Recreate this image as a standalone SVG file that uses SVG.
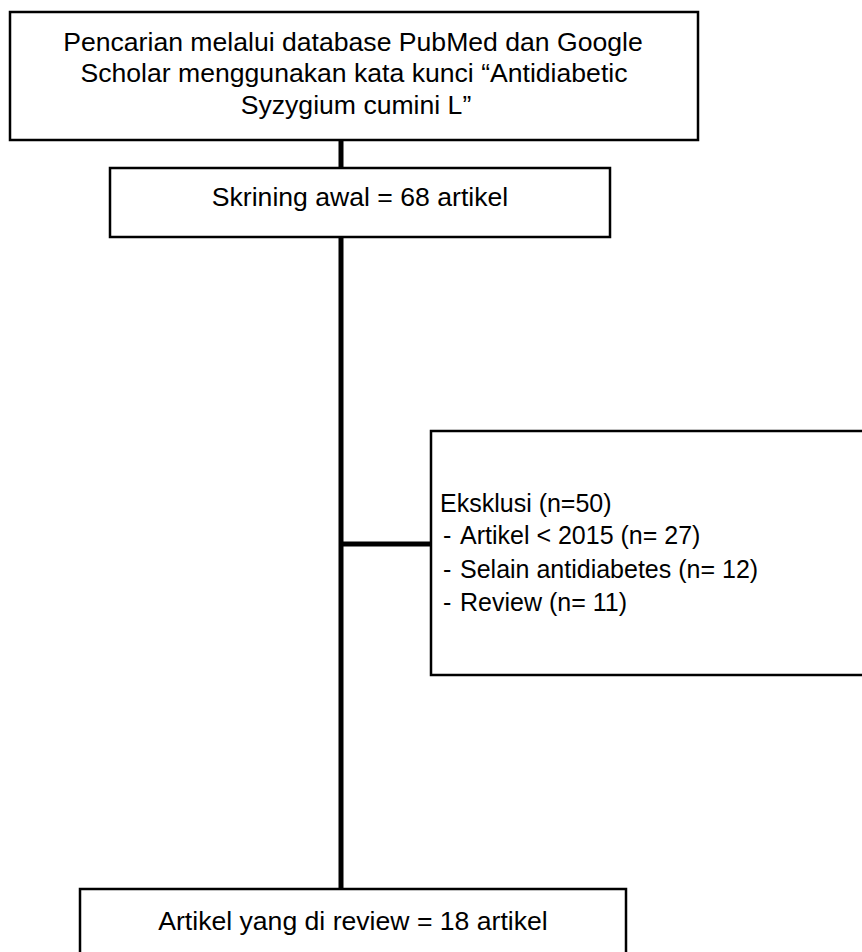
<svg xmlns="http://www.w3.org/2000/svg" width="862" height="952" viewBox="0 0 862 952">
<style>
.box{fill:#fff;stroke:#000;stroke-width:2.5}
.t{font-family:"Liberation Sans",Arial,sans-serif;font-size:26.6px;fill:#000}
.e{font-family:"Liberation Sans",Arial,sans-serif;font-size:25px;fill:#000}
.c{stroke:#000;stroke-width:5;fill:none}
</style>
<rect width="862" height="952" fill="#fff"/>
<g id="connectors">
<line class="c" x1="341" y1="140" x2="341" y2="889"/>
<line class="c" x1="341" y1="544" x2="431" y2="544"/>
</g>
<g id="search">
<rect class="box" x="10" y="12" width="688" height="128"/>
<text class="t" text-anchor="middle"><tspan x="353" y="51">Pencarian melalui database PubMed dan Google</tspan><tspan x="354" y="82">Scholar menggunakan kata kunci “Antidiabetic</tspan><tspan x="356" y="114">Syzygium cumini L”</tspan></text>
</g>
<g id="screening">
<rect class="box" x="110" y="168" width="500" height="69"/>
<text class="t" x="360" y="206" text-anchor="middle">Skrining awal = 68 artikel</text>
</g>
<g id="exclusion">
<rect class="box" x="431" y="431" width="440" height="244"/>
<text class="e" x="440" y="512">Eksklusi (n=50)</text>
<text class="e" x="443" y="544">-</text><text class="e" x="460" y="544">Artikel &lt; 2015 (n= 27)</text>
<text class="e" x="443" y="578">-</text><text class="e" x="460" y="578">Selain antidiabetes (n= 12)</text>
<text class="e" x="443" y="611">-</text><text class="e" x="460" y="611">Review (n= 11)</text>
</g>
<g id="result">
<rect class="box" x="80" y="889" width="546" height="80"/>
<text class="t" x="353" y="930" text-anchor="middle">Artikel yang di review = 18 artikel</text>
</g>
</svg>
